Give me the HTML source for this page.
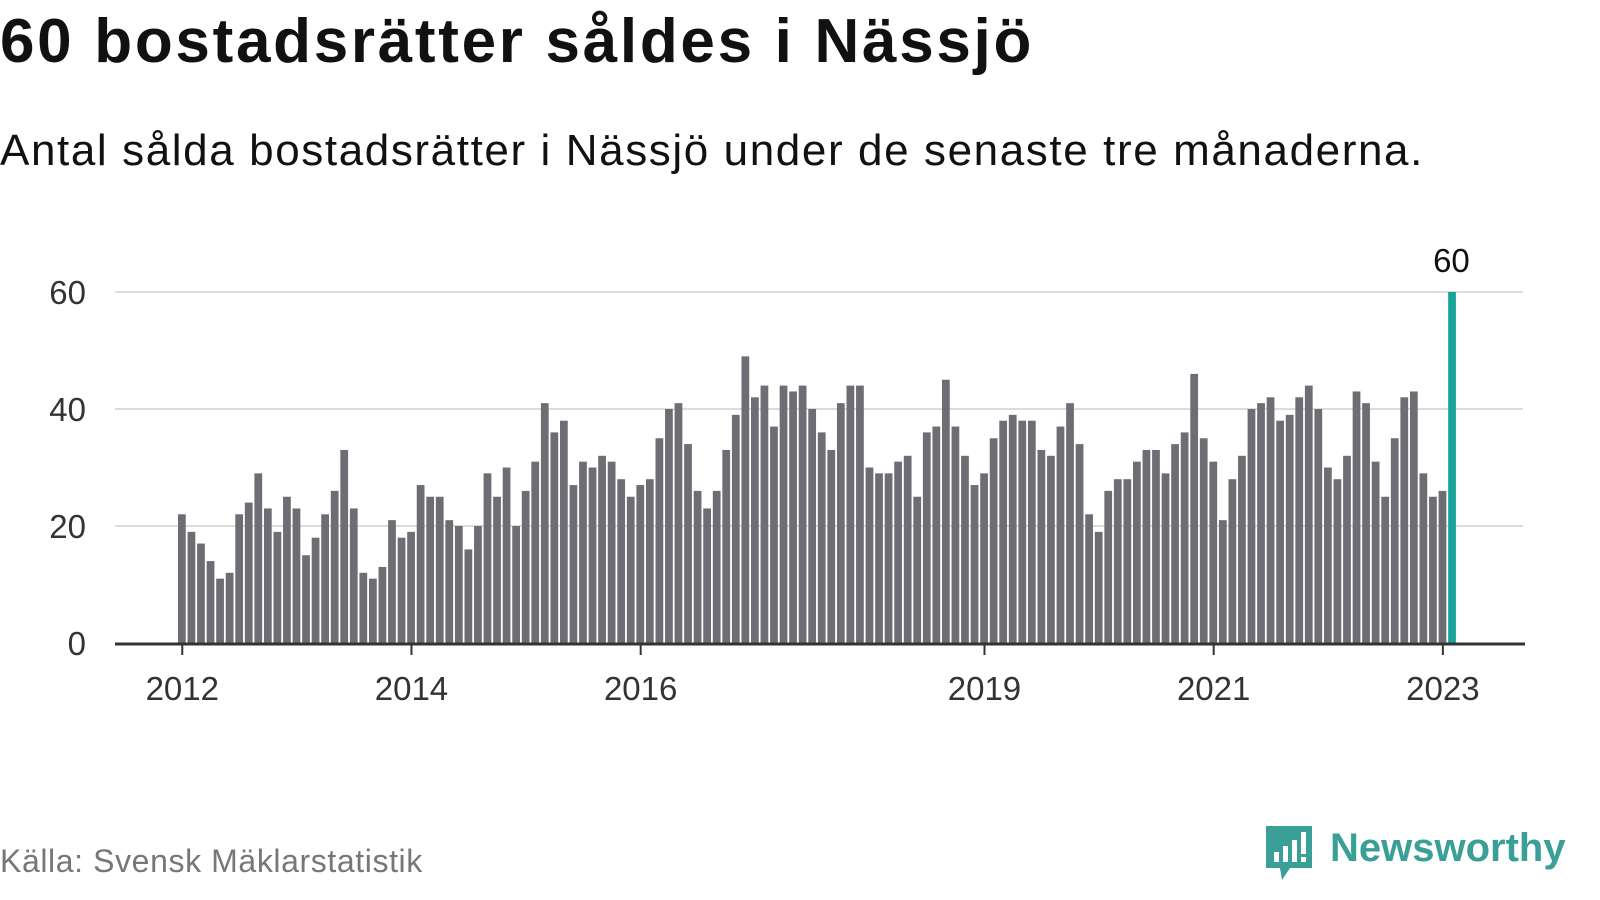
<!DOCTYPE html>
<html><head><meta charset="utf-8">
<style>
body{margin:0;width:1600px;height:900px;background:#fff;font-family:"Liberation Sans",sans-serif;overflow:hidden;position:relative}
.t{position:absolute;left:0;white-space:nowrap}
</style></head>
<body>
<div class="t" style="top:6px;font-size:62px;font-weight:bold;color:#111;letter-spacing:2.7px">60 bostadsrätter såldes i Nässjö</div>
<div class="t" style="top:126px;font-size:44px;color:#111;letter-spacing:1.6px">Antal sålda bostadsrätter i Nässjö under de senaste tre månaderna.</div>
<svg id="chart" width="1600" height="800" style="position:absolute;left:0;top:0"></svg>
<div class="t" style="top:843px;font-size:32px;color:#777;letter-spacing:0.6px">Källa: Svensk Mäklarstatistik</div>
<div style="position:absolute;left:1264px;top:824px;width:336px;height:60px">
<svg width="50" height="58" style="position:absolute;left:0;top:0"><path d="M2 2h46v42H26l-8 12-2-12H2z" fill="#3a9f96"/><rect x="10" y="28" width="5" height="10" fill="#fff"/><rect x="19" y="22" width="5" height="16" fill="#fff"/><rect x="28" y="16" width="5" height="22" fill="#fff"/><rect x="37" y="8" width="5" height="22" fill="#fff"/><rect x="37" y="33" width="5" height="5" fill="#fff"/></svg>
<span style="position:absolute;left:66px;top:2px;font-size:40px;font-weight:bold;color:#3a9f96">Newsworthy</span>
</div>
<script>
const values=[22,19,17,14,11,12,22,24,29,23,19,25,
23,15,18,22,26,33,23,12,11,13,21,18,
19,27,25,25,21,20,16,20,29,25,30,20,
26,31,41,36,38,27,31,30,32,31,28,25,
27,28,35,40,41,34,26,23,26,33,39,49,
42,44,37,44,43,44,40,36,33,41,44,44,
30,29,29,31,32,25,36,37,45,37,32,27,
29,35,38,39,38,38,33,32,37,41,34,22,
19,26,28,28,31,33,33,29,34,36,46,35,
31,21,28,32,40,41,42,38,39,42,44,40,
30,28,32,43,41,31,25,35,42,43,29,25,
26,60];
const yTicks=[0,20,40,60];
const yearLabels=["2012","2014","2016","2019","2021","2023"];
const yearIndex=[0,24,48,84,108,132];
const svg=document.getElementById('chart');
const NS='http://www.w3.org/2000/svg';
const x0=177.5,bw=9.55,y0=643,ppu=5.85;
const X=i=>x0+i*bw;
const Y=v=>y0-v*ppu;
function mk(tag,at){const e=document.createElementNS(NS,tag);for(const k in at)e.setAttribute(k,at[k]);svg.appendChild(e);return e;}
yTicks.forEach(v=>{
 if(v>0){const g=mk('line',{x1:115,x2:1523,y1:Y(v),y2:Y(v),stroke:'#dcdcdc','stroke-width':2});
 
 }
 const t=mk('text',{x:86,y:Y(v)+12,'text-anchor':'end','font-size':33,fill:'#333','font-family':'Liberation Sans, sans-serif'});
 t.textContent=v;
 
 
});
values.forEach((v,i)=>{
 const last=i===values.length-1;
 const r=mk('rect',{x:X(i)+0.5,y:Y(v),width:bw-1.8,height:v*ppu,fill:last?'#1aa398':'#6e6d73'});
 
 
});
const li=values.length-1;
const lt=mk('text',{x:X(li)+bw/2-1,y:Y(values[li])-20,'text-anchor':'middle','font-size':33,fill:'#111','font-family':'Liberation Sans, sans-serif'});
lt.textContent=values[li];


const ax=mk('line',{x1:115,x2:1525,y1:y0+1,y2:y0+1,stroke:'#333','stroke-width':3});


yearIndex.forEach((idx,k)=>{
 const cx=X(idx)+bw/2;
 const tk=mk('line',{x1:cx,x2:cx,y1:y0+2,y2:y0+12,stroke:'#333','stroke-width':2});
 
 
 const t=mk('text',{x:cx,y:700,'text-anchor':'middle','font-size':33,fill:'#333','font-family':'Liberation Sans, sans-serif'});
 t.textContent=yearLabels[k];
 
 
});
</script>
</body></html>
